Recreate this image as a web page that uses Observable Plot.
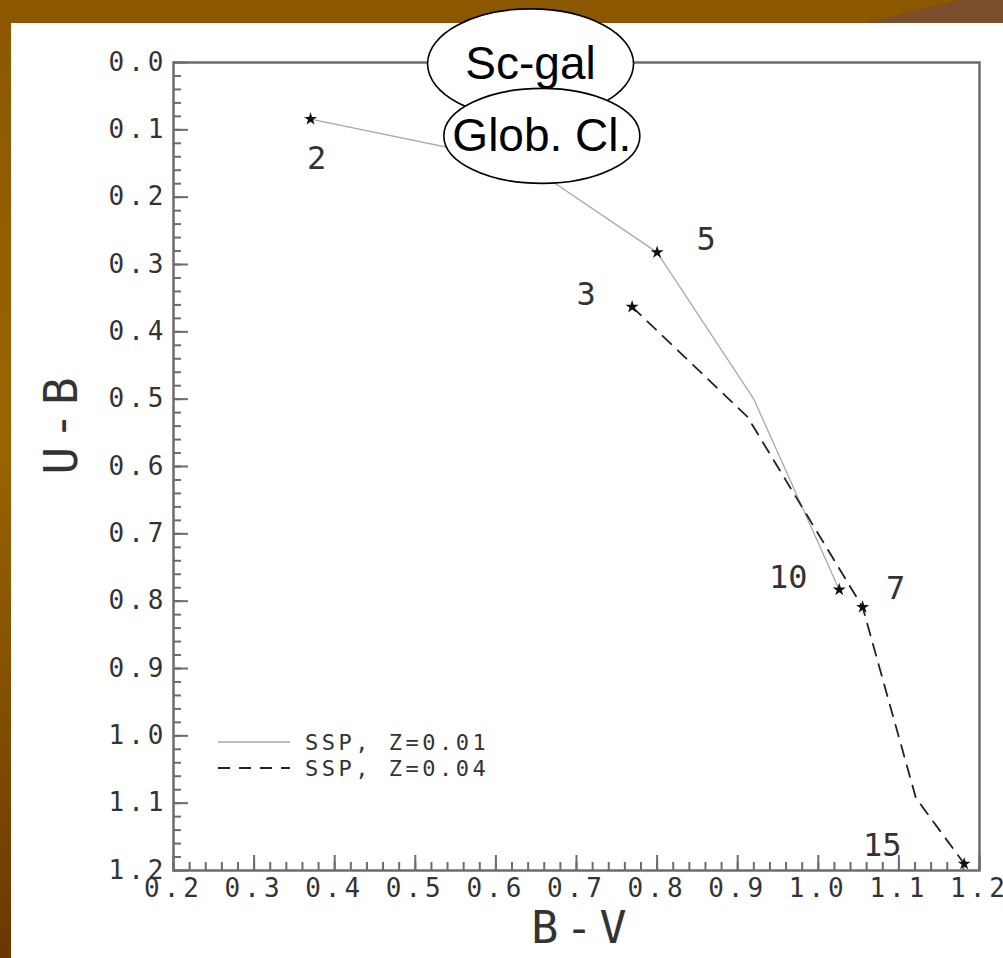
<!DOCTYPE html>
<html>
<head>
<meta charset="utf-8">
<script src="https://cdn.jsdelivr.net/npm/d3@7"></script>
<script src="https://cdn.jsdelivr.net/npm/@observablehq/plot@0.6"></script>
<style>
  html, body { margin: 0; padding: 0; background: #fff; }
  #page { position: relative; width: 1003px; height: 958px; overflow: hidden;
    background: linear-gradient(to bottom, #8a5700 0%, #9a6500 45%, #7c4a00 80%, #6a3800 100%); }
  #topband { position: absolute; left: 0; top: 0; width: 1003px; height: 23px; background: #8b5800; }
  #corner { position: absolute; left: 0; top: 0; width: 1003px; height: 23px; background: #7a4e2a;
    clip-path: polygon(866px 23px, 960px 0px, 1003px 0px, 1003px 23px); }
  #panel { position: absolute; left: 11px; top: 23px; right: 0; bottom: 0; background: #fff; }
  #chart { position: absolute; left: 0; top: 0; }
  #chart svg { font-variant-numeric: slashed-zero; }
  #chart g[aria-label="x-axis tick label"] text,
  #chart g[aria-label="y-axis tick label"] text { letter-spacing: 4px; }
  #chart text[aria-label="axis title"] { letter-spacing: 7px; }
</style>
</head>
<body>
<div id="page">
  <div id="topband"></div>
  <div id="corner"></div>
  <div id="panel"></div>
  <div id="chart"></div>
</div>
<script>
// SSP colour tracks in the (B-V, U-B) plane
const z01BV = [0.370, 0.637, 0.800, 0.920, 1.026];
const z01UB = [0.084, 0.150, 0.282, 0.500, 0.783];
const z04BV = [0.769, 0.912, 1.055, 1.121, 1.181];
const z04UB = [0.363, 0.526, 0.809, 1.092, 1.190];

// Track vertices marked with a star, and their ages (Gyr)
const z01StarIndex = [0, 2, 4];
const z01StarAge = ["2", "5", "10"];
const z04StarIndex = [0, 2, 4];
const z04StarAge = ["3", "7", "15"];

// Reference objects drawn as labelled ellipses
const refNames = ["Sc-gal", "Glob. Cl."];
const refBV = [0.643, 0.657];
const refUB = [0.002, 0.109];

// Axis ticks
const xMajorTicks = [0.2, 0.3, 0.4, 0.5, 0.6, 0.7, 0.8, 0.9, 1.0, 1.1, 1.2];
const yMajorTicks = [0.0, 0.1, 0.2, 0.3, 0.4, 0.5, 0.6, 0.7, 0.8, 0.9, 1.0, 1.1, 1.2];
const minorStep = 0.02;

const seriesNames = ["SSP, Z=0.01", "SSP, Z=0.04"];

// ---- derived tables ----
const z01 = z01BV.map((bv, i) => ({bv, ub: z01UB[i]}));
const z04 = z04BV.map((bv, i) => ({bv, ub: z04UB[i]}));
const stars = [
  ...z01StarIndex.map((k, i) => ({bv: z01BV[k], ub: z01UB[k], age: z01StarAge[i]})),
  ...z04StarIndex.map((k, i) => ({bv: z04BV[k], ub: z04UB[k], age: z04StarAge[i]}))
];
const refs = refNames.map((name, i) => ({name, bv: refBV[i], ub: refUB[i]}));
const minorX = d3.range(Math.round(0.2 / minorStep), Math.round(1.2 / minorStep) + 1).map(i => +(i * minorStep).toFixed(2));
const minorY = d3.range(0, Math.round(1.2 / minorStep) + 1).map(i => +(i * minorStep).toFixed(2));

// label placement around each star (pixels)
const ageOffset = {"2": [6, 50], "5": [49, -2], "10": [-51, -2], "3": [-46, -2], "7": [33, -8], "15": [-82, -8]};

// ellipse symbol for the reference-object badges
function ellipse(rx, ry) {
  const k = 0.5522847498;
  return {
    draw(ctx) {
      ctx.moveTo(rx, 0);
      ctx.bezierCurveTo(rx, ry * k, rx * k, ry, 0, ry);
      ctx.bezierCurveTo(-rx * k, ry, -rx, ry * k, -rx, 0);
      ctx.bezierCurveTo(-rx, -ry * k, -rx * k, -ry, 0, -ry);
      ctx.bezierCurveTo(rx * k, -ry, rx, -ry * k, rx, 0);
      ctx.closePath();
    }
  };
}
const badgeShape = {"Sc-gal": ellipse(103, 55), "Glob. Cl.": ellipse(98, 47.5)};

const axisGray = "#6c6c6c";
const mono = "DejaVu Sans Mono";
const fmt = d3.format(".1f");

const plot = Plot.plot({
  width: 1003,
  height: 958,
  marginLeft: 173,
  marginRight: 24,
  marginTop: 62,
  marginBottom: 88,
  style: {background: "transparent", overflow: "visible", fontFamily: mono, color: "#222"},
  x: {domain: [0.2, 1.2]},
  y: {domain: [0, 1.2], reverse: true},
  marks: [
    // inward minor and major ticks on the bottom and left axes
    Plot.axisX({ticks: minorX, tickSize: -8, tickFormat: () => "", stroke: axisGray, strokeWidth: 2, label: null}),
    Plot.axisX({ticks: xMajorTicks, tickSize: -15, tickFormat: () => "", stroke: axisGray, strokeWidth: 2, label: null}),
    Plot.axisY({ticks: minorY, tickSize: -8, tickFormat: () => "", stroke: axisGray, strokeWidth: 2, label: null}),
    Plot.axisY({ticks: yMajorTicks, tickSize: -15, tickFormat: () => "", stroke: axisGray, strokeWidth: 2, label: null}),
    // tick labels
    Plot.axisX({ticks: xMajorTicks, tickSize: 0, tickPadding: 8, tickFormat: fmt, label: null,
      fontSize: 26, fill: "#333"}),
    Plot.axisY({ticks: yMajorTicks, tickSize: 0, tickPadding: 6, tickFormat: fmt, label: null,
      fontSize: 26, fill: "#333"}),
    Plot.frame({stroke: axisGray, strokeWidth: 2.5}),
    // axis titles
    Plot.text(["B-V"], {frameAnchor: "bottom", dx: 6, dy: 72, fontSize: 45, fill: "#333", fontFamily: mono,
      ariaLabel: () => "axis title"}),
    Plot.text(["U-B"], {frameAnchor: "left", dx: -111, dy: 8, rotate: -90, fontSize: 46, fill: "#333", fontFamily: mono,
      ariaLabel: () => "axis title"}),
    // tracks
    Plot.line(z01, {x: "bv", y: "ub", stroke: "#a9a9a9", strokeWidth: 1.3}),
    Plot.line(z04, {x: "bv", y: "ub", stroke: "#222", strokeWidth: 1.8, strokeDasharray: "12,9"}),
    Plot.dot(stars, {x: "bv", y: "ub", symbol: "star", r: 4.1, fill: "#111", stroke: "none"}),
    Plot.text(stars, {x: "bv", y: "ub", text: "age", fontSize: 32, fill: "#333", fontFamily: mono,
      render(index, scales, values, dims, context, next) {
        const g = next(index, scales, values, dims, context);
        d3.select(g).selectAll("text").each(function(d, j) {
          const i = index[j];
          const [ox, oy] = ageOffset[stars[i].age];
          const x = values.x[i] + ox, y = values.y[i] + oy;
          d3.select(this).attr("x", null).attr("y", null).attr("transform", `translate(${x},${y})`);
        });
        return g;
      }
    }),
    // reference object badges
    ...refs.map(r => [
      Plot.dot([r], {x: "bv", y: "ub", symbol: badgeShape[r.name], r: 10, fill: "white", stroke: "black", strokeWidth: 1.6}),
      Plot.text([r], {x: "bv", y: "ub", text: "name", fontSize: 46, fill: "black", fontFamily: "Liberation Sans, Arial, sans-serif"})
    ]).flat()
  ]
});

document.getElementById("chart").appendChild(plot);

// in-frame legend
const svg = d3.select(plot);
const legend = svg.append("g").attr("font-family", mono).attr("font-size", 22).attr("fill", "#333")
  .attr("text-anchor", "start");
const legendRows = [{y: 742, dash: null, stroke: "#a9a9a9", w: 1.3}, {y: 768, dash: "12,9", stroke: "#222", w: 1.8}];
legendRows.forEach((row, i) => {
  legend.append("line").attr("x1", 218).attr("x2", 290).attr("y1", row.y).attr("y2", row.y)
    .attr("stroke", row.stroke).attr("stroke-width", row.w).attr("stroke-dasharray", row.dash);
  legend.append("text").attr("x", 305).attr("y", row.y).attr("dy", "0.35em")
    .style("letter-spacing", "3.5px").text(seriesNames[i]);
});
</script>
</body>
</html>
